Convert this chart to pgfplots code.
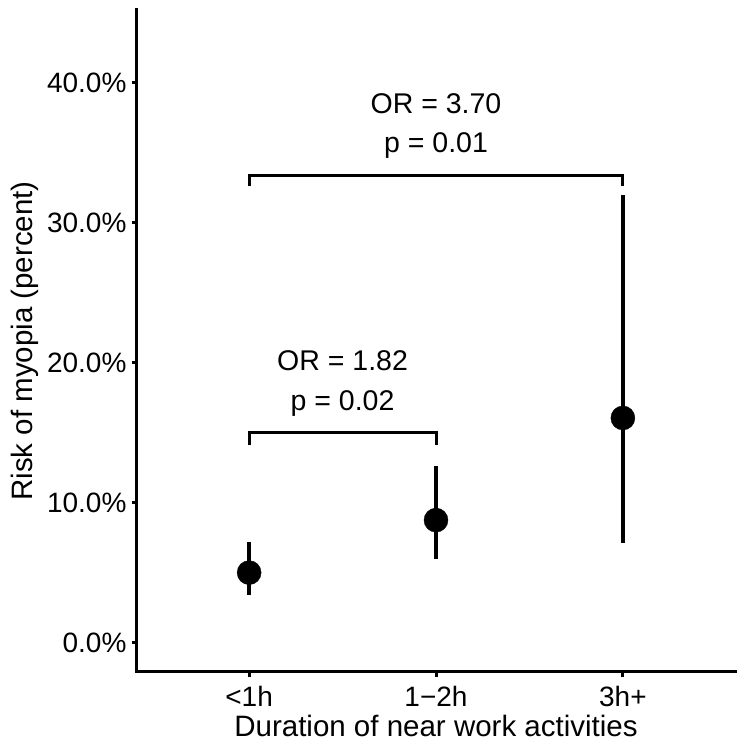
\documentclass[border=0pt]{standalone}
\usepackage{fontspec}
\setmainfont{Liberation Sans}
\usepackage{pgfplots}
\pgfplotsset{compat=1.18}
\usepackage{pgfplotstable}

\pgfplotstableread{
x  y      ep     em
1  5.0    2.2    1.6
2  8.75   3.85   2.75
3  16.05  15.95  8.95
}\riskdata

\newcommand\tickfont{\fontsize{28}{28}\selectfont}

\begin{document}
\begin{tikzpicture}
\useasboundingbox (0,0) rectangle (744pt,752pt);
\begin{axis}[
  at={(137pt,80pt)}, anchor=south west,
  scale only axis, width=598pt, height=662pt,
  xmin=0.4, xmax=3.6, ymin=-2.1, ymax=45.2,
  axis x line*=bottom, axis y line*=left,
  axis line style={line width=3pt, -, line cap=rect},
  tick align=outside, major tick length=5pt,
  tick style={line width=3pt, black},
  xtick={1,2,3}, xticklabels={{\tickfont <1h}, {\tickfont 1−2h}, {\tickfont 3h+}},
  ytick={0,10,20,30,40},
  yticklabels={{\tickfont 0.0\%}, {\tickfont 10.0\%}, {\tickfont 20.0\%}, {\tickfont 30.0\%}, {\tickfont 40.0\%}},
  yticklabel style={anchor=east, xshift=-2pt},
  xticklabel style={anchor=base, yshift=-29pt},
  xlabel={Duration of near work activities},
  ylabel={Risk of myopia (percent)},
  label style={font=\fontsize{29.5}{29.5}\selectfont},
  xlabel style={at={(axis description cs:0.5,-0.0967)}, anchor=base},
  ylabel style={at={(axis description cs:-0.187,0.5)}, anchor=center},
  clip=false,
]
\addplot[black, only marks, mark=*, mark size=12pt,
  error bars/.cd, y dir=both, y explicit,
  error bar style={line width=4.5pt, black}, error mark=none]
  table[x=x, y=y, y error plus=ep, y error minus=em] {\riskdata};
\addplot[black, line width=3pt] coordinates {(1,14.1) (1,15.02) (2,15.02) (2,14.1)};
\addplot[black, line width=3pt] coordinates {(1,32.6) (1,33.4) (3,33.4) (3,32.6)};
\node[anchor=base, font=\fontsize{28.5}{28.5}\selectfont] at (axis cs:1.5,19.46) {OR = 1.82};
\node[anchor=base, font=\fontsize{28.5}{28.5}\selectfont] at (axis cs:1.5,16.6) {p = 0.02};
\node[anchor=base, font=\fontsize{28.5}{28.5}\selectfont] at (axis cs:2,37.8) {OR = 3.70};
\node[anchor=base, font=\fontsize{28.5}{28.5}\selectfont] at (axis cs:2,35.0) {p = 0.01};
\end{axis}
\end{tikzpicture}
\end{document}
